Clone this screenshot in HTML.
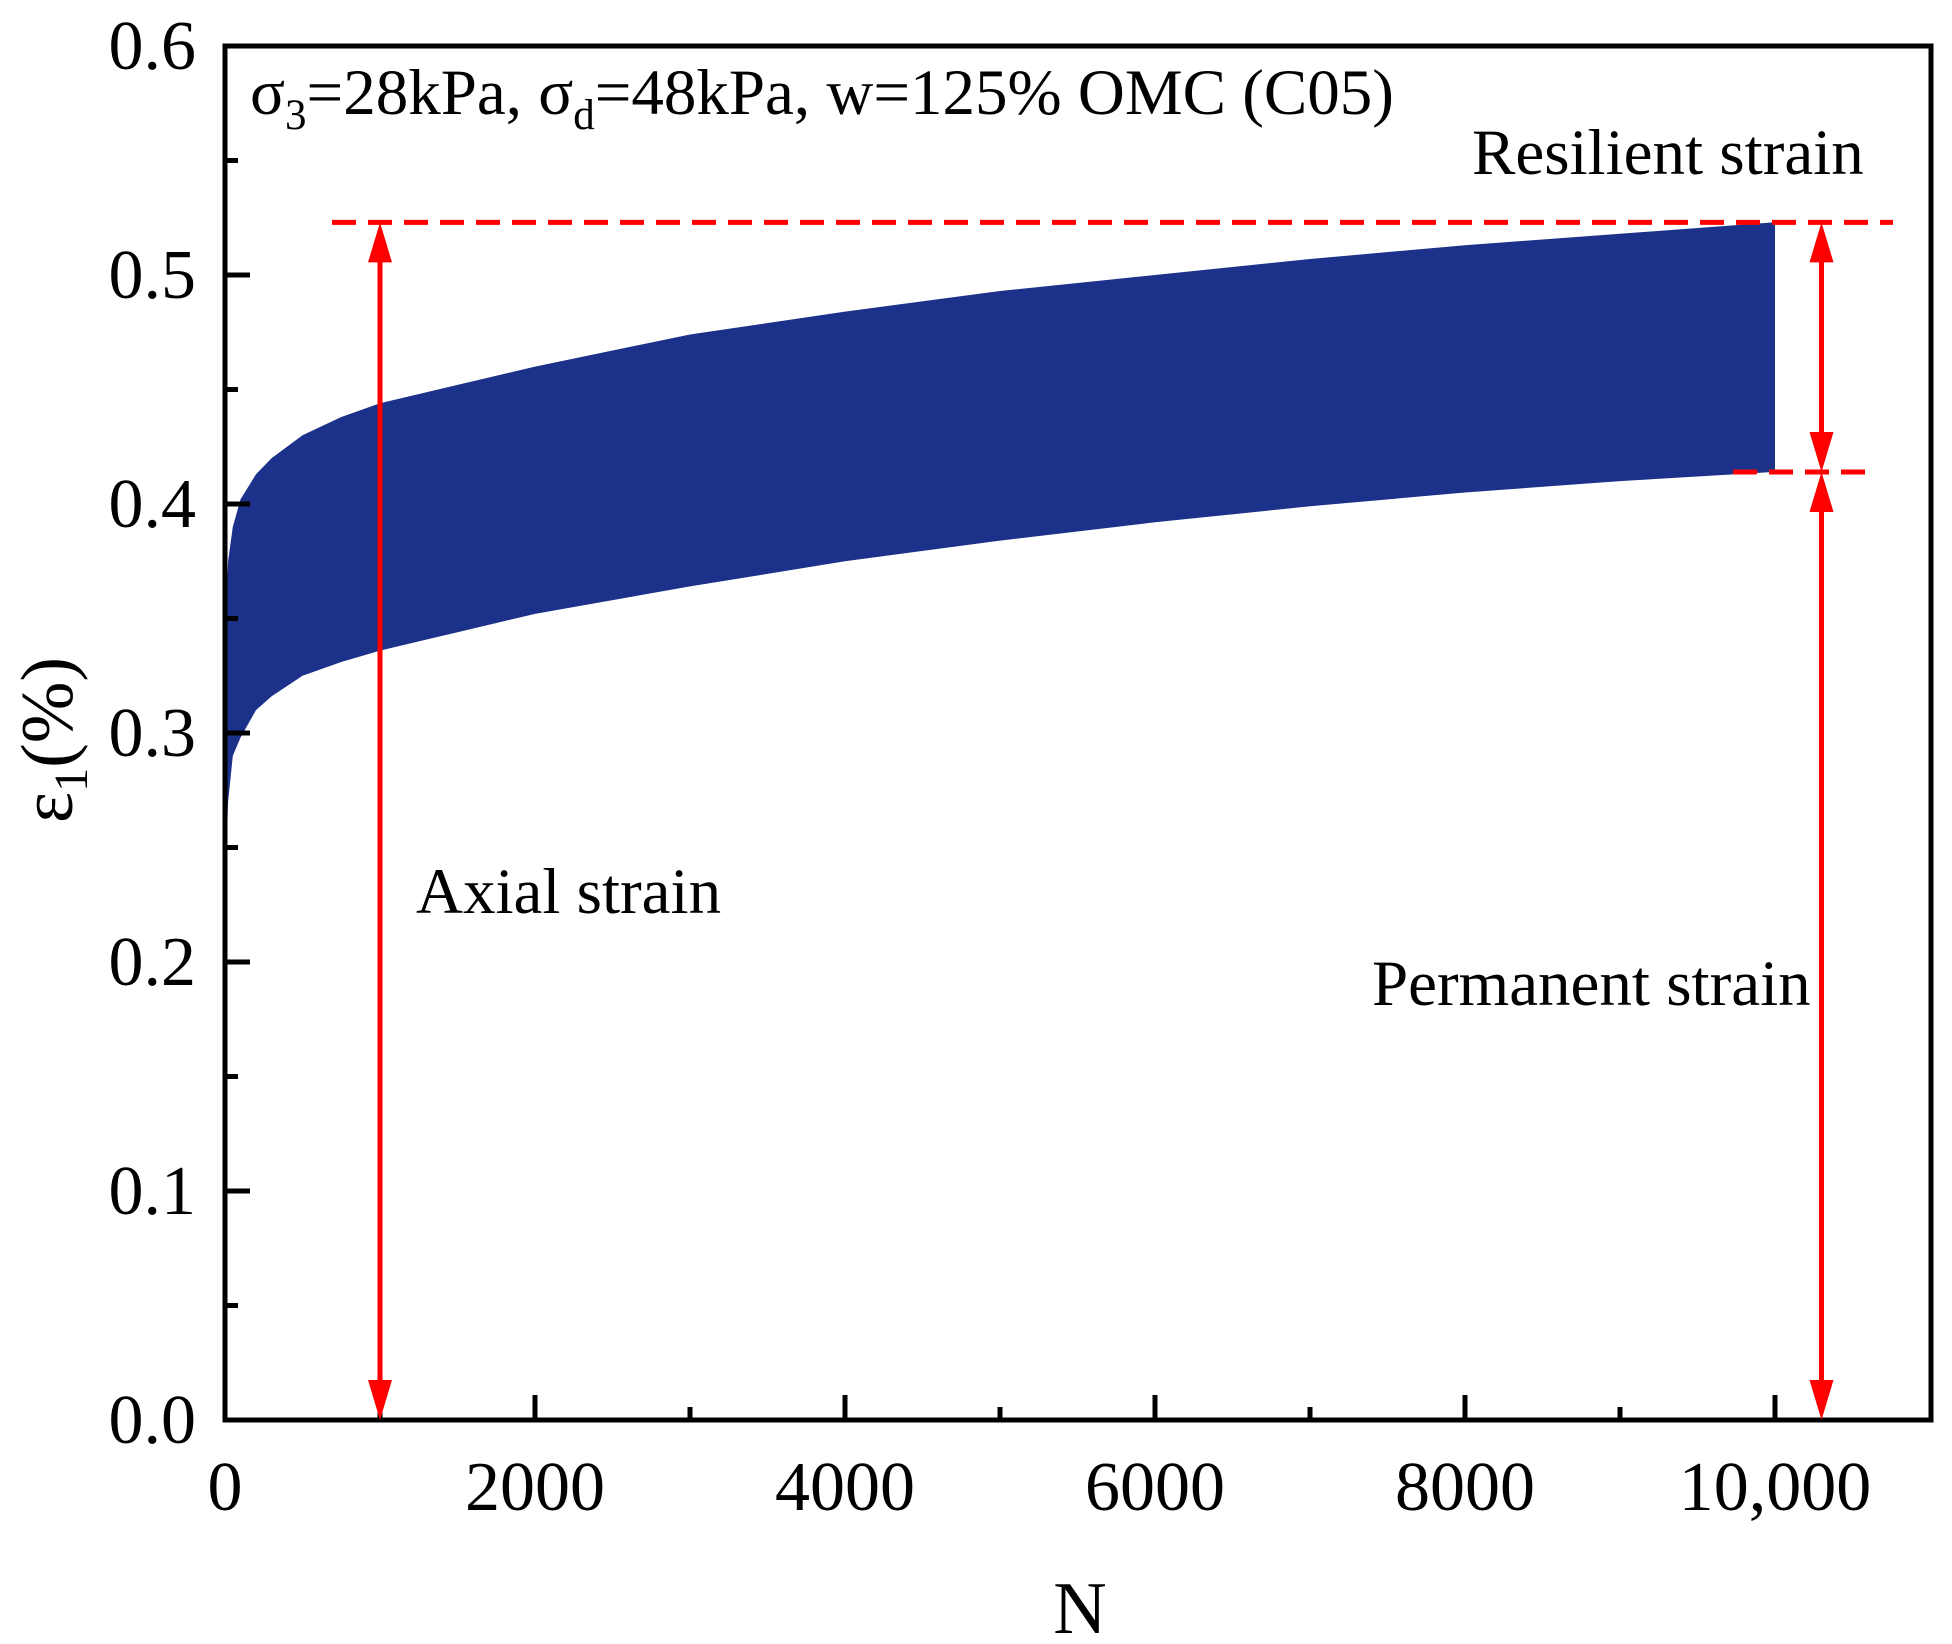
<!DOCTYPE html>
<html><head><meta charset="utf-8">
<style>
html,body{margin:0;padding:0;background:#fff;}
svg{display:block;font-family:"Liberation Serif",serif;}
</style></head>
<body>
<svg id="chart" width="1952" height="1644" viewBox="0 0 1952 1644" xmlns="http://www.w3.org/2000/svg"></svg>
<script>
const cycles = [0, 10, 20, 50, 100, 200, 300, 500, 750, 1000, 1500, 2000, 3000, 4000, 5000, 6000, 7000, 8000, 9000, 10000];
const upperStrain = [0.22, 0.36, 0.375, 0.39, 0.402, 0.413, 0.42, 0.43, 0.438, 0.444, 0.452, 0.46, 0.474, 0.484, 0.493, 0.5, 0.507, 0.513, 0.518, 0.523];
const lowerStrain = [0.22, 0.25, 0.27, 0.29, 0.298, 0.31, 0.316, 0.325, 0.331, 0.336, 0.344, 0.352, 0.364, 0.375, 0.384, 0.392, 0.399, 0.405, 0.41, 0.414];
const xTicks = [0, 2000, 4000, 6000, 8000, 10000];
const xTickLabels = ["0", "2000", "4000", "6000", "8000", "10,000"];
const yTicks = [0, 0.1, 0.2, 0.3, 0.4, 0.5, 0.6];
const yTickLabels = ["0.0", "0.1", "0.2", "0.3", "0.4", "0.5", "0.6"];
const axialN = 1000;
const rightArrowN = 10300;

const L = 225, R = 1931, T = 46, B = 1420;
const xs = v => L + v / 10000 * (1775 - L);
const ys = v => B - v / 0.6 * (B - T);
const svg = document.getElementById('chart');
const NS = 'http://www.w3.org/2000/svg';
function mk(tag, attrs, parent) {
  const e = document.createElementNS(NS, tag);
  for (const k in attrs) e.setAttribute(k, attrs[k]);
  (parent || svg).appendChild(e);
  return e;
}

let d = '';
cycles.forEach((n, i) => { d += (i ? 'L' : 'M') + xs(n).toFixed(1) + ',' + ys(upperStrain[i]).toFixed(1); });
for (let i = cycles.length - 1; i >= 0; i--) d += 'L' + xs(cycles[i]).toFixed(1) + ',' + ys(lowerStrain[i]).toFixed(1);
d += 'Z';
const band = mk('path', {d: d, fill: '#1c318a'});



const frame = mk('rect', {x: L, y: T, width: R - L, height: B - T, fill: 'none', stroke: '#000', 'stroke-width': 5});



for (let n = 1000; n <= 10000; n += 1000) {
  const major = n % 2000 === 0;
  const t = mk('line', {x1: xs(n), x2: xs(n), y1: B, y2: B - (major ? 25 : 13), stroke: '#000', 'stroke-width': 5});
  
  
}
xTicks.forEach((v, i) => {
  const t = mk('text', {x: xs(v), y: 1510, 'font-size': 70, 'text-anchor': 'middle'});
  t.textContent = xTickLabels[i];
  
  
});
for (let k = 1; k < 12; k++) {
  const v = k * 0.05, major = k % 2 === 0;
  const t = mk('line', {x1: L, x2: L + (major ? 25 : 13), y1: ys(v), y2: ys(v), stroke: '#000', 'stroke-width': 5});
  
  
}
yTicks.forEach((v, i) => {
  const t = mk('text', {x: 196, y: ys(v) + 23, 'font-size': 70, 'text-anchor': 'end'});
  t.textContent = yTickLabels[i];
  
  
});

const red = '#ff0000';
const topY = ys(upperStrain[upperStrain.length - 1]);
const botY = ys(lowerStrain[lowerStrain.length - 1]);
const dash1 = mk('line', {x1: 332, x2: 1893, y1: topY, y2: topY, stroke: red, 'stroke-width': 5, 'stroke-dasharray': '24 12'});


const dash2 = mk('line', {x1: 1733, x2: 1870, y1: botY, y2: botY, stroke: red, 'stroke-width': 5, 'stroke-dasharray': '24 12'});


function arrow(x, y1, y2, name) {
  const g = mk('g', {});
  
  
  mk('line', {x1: x, x2: x, y1: y1 + 30, y2: y2 - 30, stroke: red, 'stroke-width': 5}, g);
  mk('path', {d: `M${x},${y1} L${x-12},${y1+40} L${x+12},${y1+40} Z`, fill: red}, g);
  mk('path', {d: `M${x},${y2} L${x-12},${y2-40} L${x+12},${y2-40} Z`, fill: red}, g);
}
arrow(xs(axialN), topY, B, 'axial-strain-arrow');
arrow(xs(rightArrowN), topY, botY, 'resilient-strain-arrow');
arrow(xs(rightArrowN), botY, B, 'permanent-strain-arrow');
</script>
<svg style="position:absolute;left:0;top:0;font-family:'Liberation Serif',serif" width="1952" height="1644">
<text x="250" y="114" font-size="65">σ<tspan font-size="43" dy="15">3</tspan><tspan dy="-15">=28kPa, σ</tspan><tspan font-size="43" dy="15">d</tspan><tspan dy="-15">=48kPa, w=125% OMC (C05)</tspan></text>
<text x="1472" y="174" font-size="65">Resilient strain</text>
<text x="416" y="913" font-size="65">Axial strain</text>
<text x="1372" y="1005" font-size="65">Permanent strain</text>
<text x="1080" y="1633" font-size="74" text-anchor="middle">N</text>
<text transform="translate(72,740) rotate(-90)" font-size="74" text-anchor="middle">ε<tspan font-size="48" dy="15">1</tspan><tspan dy="-15">(%)</tspan></text>
</svg>
</body></html>
